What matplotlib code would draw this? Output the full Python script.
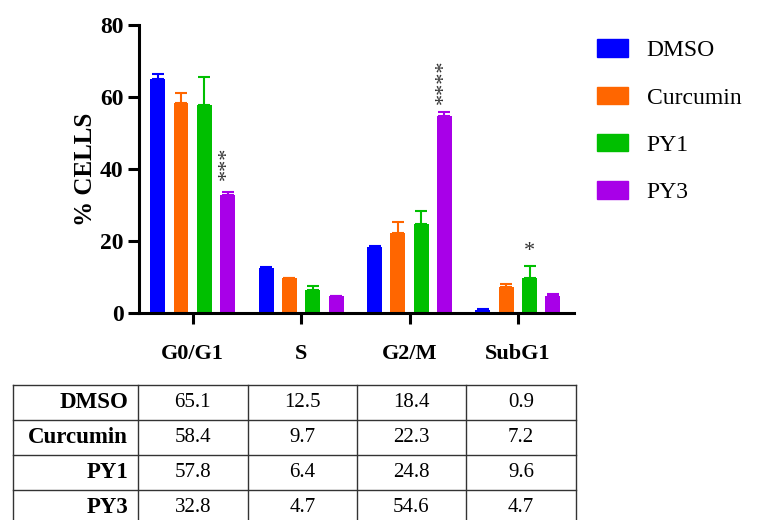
import numpy as np
import matplotlib
matplotlib.use("Agg")
import matplotlib.pyplot as plt
from matplotlib.patches import Patch

plt.rcParams['font.family'] = ['Liberation Serif', 'DejaVu Serif']

# ---------------- data ----------------
phases = ["G0/G1", "S", "G2/M", "SubG1"]
treatments = ["DMSO", "Curcumin", "PY1", "PY3"]
colors = ["#0000FF", "#FF6600", "#00BF00", "#A800E8"]

dmso = [65.1, 12.5, 18.4, 0.9]
curcumin = [58.4, 9.7, 22.3, 7.2]
py1 = [57.8, 6.4, 24.8, 9.6]
py3 = [32.8, 4.7, 54.6, 4.7]

# upper error (SD)
dmso_err = [1.3, 0.2, 0.2, 0.1]
curcumin_err = [2.8, 0.1, 3.0, 0.9]
py1_err = [7.8, 1.0, 3.6, 3.5]
py3_err = [0.8, 0.1, 1.2, 0.7]

# significance marks: (phase index, treatment index, text, y)
signif = [(0, 3, "***", 41.5), (2, 3, "****", 64.3), (3, 2, "*", 17.0)]

values = [dmso, curcumin, py1, py3]
errors = [dmso_err, curcumin_err, py1_err, py3_err]

# ---------------- figure ----------------
W, H = 758, 520
fig = plt.figure(figsize=(W / 100, H / 100), dpi=100)

x0, x1, y0, y1 = 139, 574, 313, 25
ax = fig.add_axes([x0 / W, 1 - y0 / H, (x1 - x0) / W, (y0 - y1) / H])

x = np.arange(len(phases))
pitch = 0.215
width = 0.138
for i, (vals, errs) in enumerate(zip(values, errors)):
    pos = x + (i - 1.5) * pitch
    ax.bar(pos, vals, width, color=colors[i], label=treatments[i], zorder=2)
    ax.errorbar(pos, vals, yerr=[np.zeros(len(errs)), errs], fmt="none",
                ecolor=colors[i], elinewidth=1.5, capsize=4, capthick=1.5, zorder=3)

for p, t, s, yy in signif:
    ax.text(p + (t - 1.5) * pitch, yy, s, rotation=90 if len(s) > 1 else 0,
            ha="center", va="center", fontsize=16, color="#333333")

ax.set_xlim(-0.495, 3.517)
ax.set_ylim(0, 80)
ax.set_yticks([0, 20, 40, 60, 80])
ax.set_xticks(x)
ax.set_xticklabels(phases, fontweight="bold", fontsize=16)
for lab in ax.get_yticklabels():
    lab.set_fontweight("bold")
    lab.set_fontsize(17)
ax.tick_params(axis="both", width=2.2, length=8, direction="out")
ax.tick_params(axis="x", pad=14)
ax.tick_params(axis="y", pad=3)
for s in ["top", "right"]:
    ax.spines[s].set_visible(False)
for s in ["left", "bottom"]:
    ax.spines[s].set_linewidth(2.2)
ax.set_ylabel("% CELLS", fontsize=18, fontweight="bold", labelpad=2)

handles = [Patch(color=c) for c in colors]
fig.legend(handles, treatments, loc="upper left", bbox_to_anchor=(576 / W, 1 - 18 / H),
           frameon=False, fontsize=17, handlelength=1.3, handleheight=0.75,
           labelspacing=1.08, handletextpad=0.8)

# ---------------- table ----------------
tx0, tx1, ty0, ty1 = 13, 576, 385, 525
tab = fig.add_axes([tx0 / W, 1 - ty1 / H, (tx1 - tx0) / W, (ty1 - ty0) / H])
col_edges = [0, 125, 234.5, 344, 453, 563]
tab.set_xlim(0, 563)
tab.set_ylim(len(treatments), 0)
tab.axis("off")
for r in range(len(treatments) + 1):
    tab.plot([0, 563], [r, r], color="#333333", lw=1.0, clip_on=False)
for c in col_edges:
    tab.plot([c, c], [0, len(treatments)], color="#333333", lw=1.0, clip_on=False)
for r, (name, vals) in enumerate(zip(treatments, values)):
    tab.text(col_edges[1] - 10, r + 0.5, name, ha="right", va="center",
             fontsize=16.5, fontweight="bold")
    for c, v in enumerate(vals):
        tab.text((col_edges[c + 1] + col_edges[c + 2]) / 2, r + 0.5, f"{v:.1f}",
                 ha="center", va="center", fontsize=15)

fig.savefig("out.png", dpi=100)
